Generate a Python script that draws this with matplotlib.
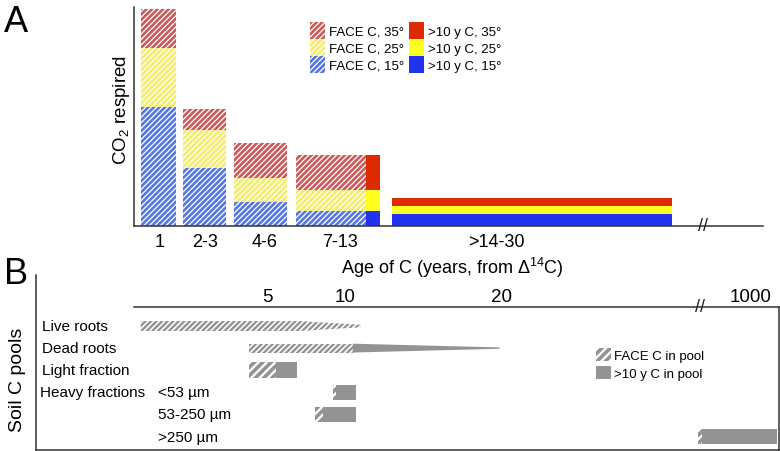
import numpy as np
import matplotlib
matplotlib.use("Agg")
import matplotlib.pyplot as plt
import matplotlib.patches as mpatches

plt.rcParams["font.family"] = ["Liberation Sans", "DejaVu Sans"]
plt.rcParams["mathtext.fontset"] = "custom"
plt.rcParams["mathtext.rm"] = "Liberation Sans"
plt.rcParams["hatch.linewidth"] = 1.9

# ---- panel A data (CO2 respired, arbitrary units) ----
age_classes = ['1', '2-3', '4-6', '7-13', '>14-30']
face_15 = [11.9, 5.8, 2.4, 1.5, 0.0]
face_25 = [5.9, 3.8, 2.4, 2.1, 0.0]
face_35 = [3.9, 2.1, 3.5, 3.5, 0.0]
old_15 = [0.0, 0.0, 0.0, 1.5, 1.25]
old_25 = [0.0, 0.0, 0.0, 2.1, 0.8]
old_35 = [0.0, 0.0, 0.0, 3.5, 0.8]

# ---- panel B data (ages in years) ----
pools = ['Live roots', 'Dead roots', 'Light fraction', '<53 \u00b5m', '53-250 \u00b5m', '>250 \u00b5m']
face_start = [-3.1, 3.85, 3.85, 9.2, 8.1, 932]
old_start = [np.nan, 10.5, 5.6, 9.4, 8.6, 938]
old_end = [11.0, 19.9, 6.9, 10.7, 10.7, 1034]
b_ticks = [5, 10, 20, 1000]

# layout of the schematic bars in panel A
face_left = [7, 49, 100, 162, 0]
face_w = [35, 43, 53, 70, 0]
old_left = [0, 0, 0, 232, 258]
old_w = [0, 0, 0, 14, 280]
tick_pos = [26, 71, 131, 206, 362]

hatch_cols = ['#5577e0', '#f4ec6c', '#cc5a5a']
solid_cols = ['#2233ee', '#ffff22', '#dd2a00']
HA = '//////'


def bpos(year):
    # broken axis: the 1000-y segment is squeezed behind the break
    year = np.asarray(year, dtype=float)
    return np.where(year > 100, 36.0 + (year - 1000) * 0.05, year)


W, H = 780, 452
fig = plt.figure(figsize=(7.8, 4.52), dpi=100)

# ================= A =================
axA = fig.add_axes([134 / W, 1 - 227 / H, 631 / W, 219 / H])
bottom = np.zeros(5)
for vals, c in zip([face_15, face_25, face_35], hatch_cols):
    axA.bar(face_left, vals, width=face_w, bottom=bottom, align='edge',
            facecolor='white', edgecolor=c, linewidth=0, hatch=HA)
    bottom = bottom + np.array(vals)
bottom = np.zeros(5)
for vals, c in zip([old_15, old_25, old_35], solid_cols):
    axA.bar(old_left, vals, width=old_w, bottom=bottom, align='edge',
            color=c, linewidth=0)
    bottom = bottom + np.array(vals)

axA.set_xlim(0, 631)
axA.set_ylim(0, 21.9)
for s in ['top', 'right']:
    axA.spines[s].set_visible(False)
for s in ['left', 'bottom']:
    axA.spines[s].set_color('#333333')
    axA.spines[s].set_linewidth(1.1)
axA.spines['bottom'].set_bounds(0, 629)
axA.set_yticks([])
axA.set_xticks(tick_pos)
axA.set_xticklabels(age_classes, fontsize=13)
axA.tick_params(axis='x', length=0, pad=5)
axA.text(569, 0, '//', fontsize=13, ha='center', va='center', color='#222222')

hnd = [mpatches.Patch(facecolor='white', edgecolor=c, linewidth=0, hatch=HA) for c in hatch_cols[::-1]]
hnd += [mpatches.Patch(color=c, linewidth=0) for c in solid_cols[::-1]]
labs = ['FACE C, 35\u00b0', 'FACE C, 25\u00b0', 'FACE C, 15\u00b0',
        '>10 y C, 35\u00b0', '>10 y C, 25\u00b0', '>10 y C, 15\u00b0']
fig.legend(hnd, labs, loc='upper left', bbox_to_anchor=(310 / W, 1 - 23 / H),
           bbox_transform=fig.transFigure, ncol=2, frameon=False, fontsize=9.5,
           borderpad=0, borderaxespad=0, labelspacing=0, handleheight=1.6,
           handlelength=1.14, handletextpad=0.3, columnspacing=0.35)

fig.text(122 / W, 1 - 110 / H, r'CO$_2$ respired', rotation=90, fontsize=13.5,
         ha='center', va='center')
fig.text(452 / W, 1 - 268 / H, r'Age of C (years, from $\Delta^{14}$C)', fontsize=13,
         ha='center', va='center')
fig.text(4 / W, 1 - 22 / H, 'A', fontsize=26, ha='left', va='center')
fig.text(4 / W, 1 - 274 / H, 'B', fontsize=26, ha='left', va='center')

# ================= B =================
axB = fig.add_axes([36 / W, 1 - 451 / H, 743 / W, 143 / H])
xmin, xmax = -9.81, 37.82
axB.set_xlim(xmin, xmax)
axB.set_ylim(5.61, -0.86)
gray = '#939393'
hgt = [0.45, 0.4, 0.72, 0.68, 0.68, 0.68]
b_hatch = ['//////', '//////', '////', '////', '////', '////']

for i in range(len(pools)):
    fs, os_, oe = bpos(face_start[i]), bpos(old_start[i]), bpos(old_end[i])
    h = hgt[i]
    plt.rcParams["hatch.linewidth"] = 2.6 if b_hatch[i] == '////' else 1.7
    if i == 0:
        # live roots: FACE C only, fading out
        xs = [fs, 7.0, oe, oe, 7.0, fs]
        ys = [i - h / 2, i - h / 2, i - 0.06, i + 0.06, i + h / 2, i + h / 2]
        axB.add_patch(mpatches.Polygon(np.column_stack([xs, ys]), closed=True,
                                       facecolor='white', edgecolor=gray, linewidth=0,
                                       hatch=b_hatch[i]))
        continue
    axB.add_patch(mpatches.Rectangle((fs, i - h / 2), os_ - fs, h, facecolor='white',
                                     edgecolor=gray, linewidth=0, hatch=b_hatch[i]))
    if i == 1:
        # dead roots: tapering wedge of old C
        xs = [os_, oe, oe, os_]
        ys = [i - h / 2, i - 0.03, i + 0.03, i + h / 2]
        axB.add_patch(mpatches.Polygon(np.column_stack([xs, ys]), closed=True,
                                       color=gray, linewidth=0))
    else:
        axB.add_patch(mpatches.Rectangle((os_, i - h / 2), oe - os_, h,
                                         color=gray, linewidth=0))

label_x = [42, 42, 42, 158, 158, 158]
for i, p in enumerate(pools):
    axB.text((label_x[i] - 36) / 743, i, p, transform=axB.get_yaxis_transform(),
             fontsize=11, ha='left', va='center')
axB.text((40 - 36) / 743, 3, 'Heavy fractions', transform=axB.get_yaxis_transform(),
         fontsize=11, ha='left', va='center')

axB.spines['top'].set_visible(False)
for s in ['left', 'bottom', 'right']:
    axB.spines[s].set_color('#333333')
    axB.spines[s].set_linewidth(1.1)
axB.spines['left'].set_visible(False)
axB.plot([0, 0], [0, 1 + 32 / 143], transform=axB.transAxes, color='#333333',
         lw=1.1, clip_on=False)
axB.plot([(134 - 36) / 743, 1], [1, 1], transform=axB.transAxes, color='#333333',
         lw=1.1, clip_on=False)
axB.set_yticks([])
axB.xaxis.tick_top()
axB.set_xticks(bpos(b_ticks))
axB.set_xticklabels([str(t) for t in b_ticks], fontsize=13.5)
axB.tick_params(axis='x', length=0, pad=1.5)
axB.text(32.76, -0.86, '//', fontsize=13, ha='center', va='center', color='#222222')

plt.rcParams["hatch.linewidth"] = 2.6
hB = [mpatches.Patch(facecolor='white', edgecolor=gray, linewidth=0, hatch='////'),
      mpatches.Patch(color=gray, linewidth=0)]
axB.legend(hB, ['FACE C in pool', '>10 y C in pool'], loc='upper left',
           bbox_to_anchor=(596 / W, 1 - 349 / H), bbox_transform=fig.transFigure,
           frameon=False, fontsize=9.5, borderpad=0, borderaxespad=0,
           labelspacing=0.35, handleheight=1.1, handlelength=1.14, handletextpad=0.25)

fig.text(18 / W, 1 - 380 / H, 'Soil C pools', rotation=90, fontsize=14,
         ha='center', va='center')

fig.savefig('out.png', dpi=100)
